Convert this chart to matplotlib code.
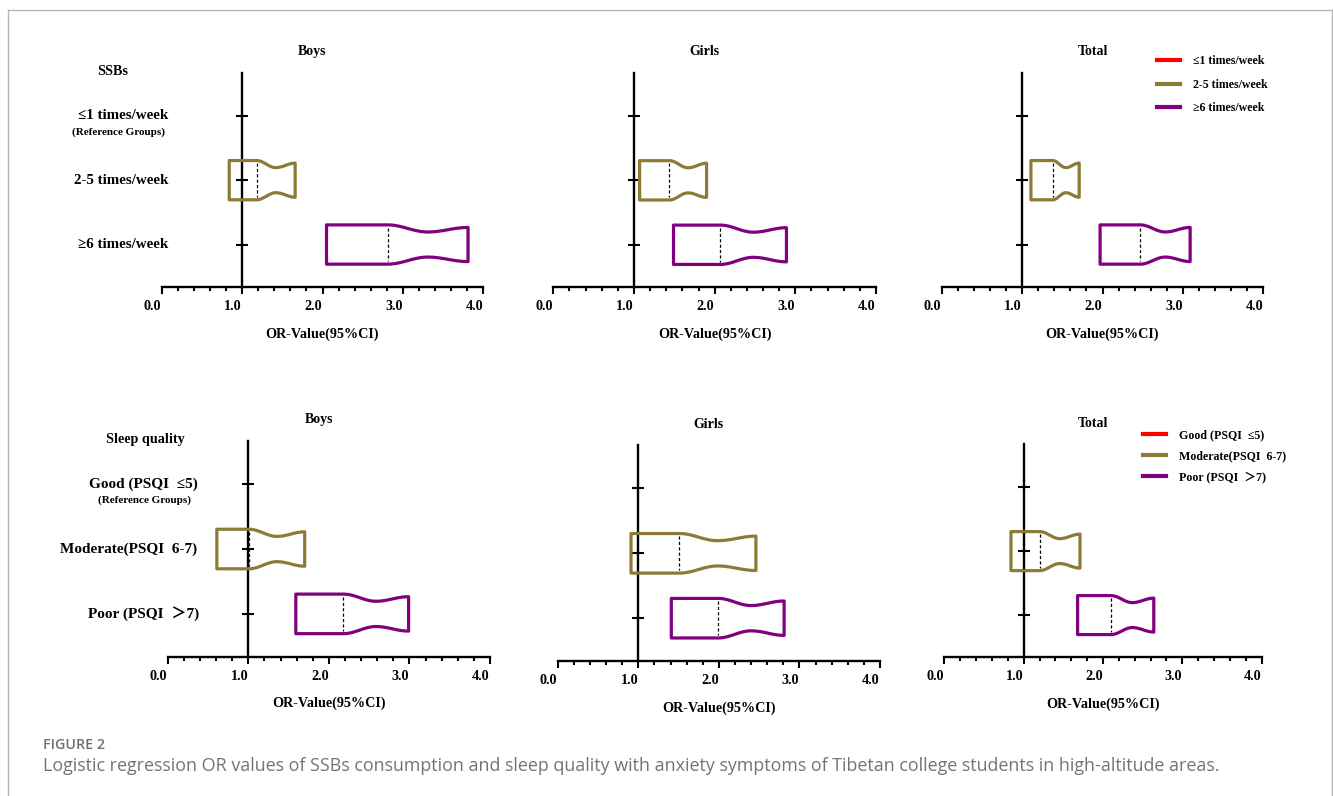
import numpy as np
import matplotlib
matplotlib.use('Agg')
import matplotlib.pyplot as plt
from matplotlib.patches import Polygon
from matplotlib.lines import Line2D
from matplotlib.transforms import ScaledTranslation
from matplotlib.ticker import MultipleLocator, FormatStrFormatter

plt.rcParams['font.family'] = ['Liberation Serif', 'Noto Sans CJK SC', 'DejaVu Sans']
plt.rcParams['font.weight'] = 'bold'

# ---------------- data ----------------
groups = ['Boys', 'Girls', 'Total']
row_pos = [1, 2, 3]

ssb_labels = ['≤1 times/week', '2-5 times/week', '≥6 times/week']
ssb_legend = ['≤1 times/week', '2-5 times/week', '≥6 times/week']
# reference row: OR = 1 (no interval)
ssb_or_boys = [1.00, 1.18, 2.81]
ssb_lo_boys = [1.00, 0.84, 2.05]
ssb_hi_boys = [1.00, 1.66, 3.81]
ssb_or_girls = [1.00, 1.44, 2.07]
ssb_lo_girls = [1.00, 1.07, 1.49]
ssb_hi_girls = [1.00, 1.90, 2.89]
ssb_or_total = [1.00, 1.38, 2.47]
ssb_lo_total = [1.00, 1.11, 1.97]
ssb_hi_total = [1.00, 1.71, 3.09]

sleep_labels = ['Good (PSQI  ≤5)', 'Moderate(PSQI  6-7)', 'Poor (PSQI  ＞7)']
sleep_legend = ['Good (PSQI  ≤5)', 'Moderate(PSQI  6-7)', 'Poor (PSQI  ＞7)']
sleep_or_boys = [1.00, 1.01, 2.18]
sleep_lo_boys = [1.00, 0.61, 1.59]
sleep_hi_boys = [1.00, 1.70, 2.99]
sleep_or_girls = [1.00, 1.51, 1.99]
sleep_lo_girls = [1.00, 0.91, 1.41]
sleep_hi_girls = [1.00, 2.46, 2.81]
sleep_or_total = [1.00, 1.20, 2.10]
sleep_lo_total = [1.00, 0.84, 1.68]
sleep_hi_total = [1.00, 1.71, 2.64]

x_ticks = [0.0, 1.0, 2.0, 3.0, 4.0]

# ---------------- style ----------------
colors = ['#ff0000', '#8c7a37', '#800080']
W, H = 1333, 796
fig = plt.figure(figsize=(W / 100, H / 100), dpi=100)

def px(v):
    return v * 0.72  # pixels -> points at 100 dpi

# axes rectangles in pixels: (left, top, right, bottom)
rects = [
    [(161.7, 72.7, 483.3, 287.0), (553.3, 72.7, 876.0, 287.3), (941.7, 72.7, 1263.3, 287.0)],
    [(167.7, 440.7, 490.0, 656.7), (557.7, 445.0, 880.0, 661.0), (944.3, 444.3, 1261.7, 657.3)],
]
# horizontal centres (pixels) of the row labels
label_cx = [[123, 121, 123], [143, 129, 144]]

def notch_box(ax, lo, med, hi, y, color):
    h, hn, h2 = 0.305, 0.195, 0.265
    notch = (med + hi) / 2.0
    xa = np.linspace(med, notch, 40)
    ta = (xa - med) / (notch - med)
    ha = hn + (h - hn) * (1 + np.cos(np.pi * ta)) / 2
    xb = np.linspace(notch, hi, 40)[1:]
    tb = (xb - notch) / (hi - notch)
    hb = hn + (h2 - hn) * (1 - np.cos(np.pi * tb)) / 2
    xs = np.concatenate([[lo], xa, xb])
    hs = np.concatenate([[h], ha, hb])
    top = np.column_stack([xs, y - hs])
    bot = np.column_stack([xs[::-1], y + hs[::-1]])
    poly = Polygon(np.vstack([top, bot]), closed=True, fill=False,
                   edgecolor=color, lw=2.3, joinstyle='round', zorder=3)
    ax.add_patch(poly)
    ax.plot([med, med], [y - h * 0.86, y + h * 0.86], color='black', lw=0.9,
            ls=(0, (2.5, 1.8)), zorder=4)

panel_data = [
    [(ssb_or_boys, ssb_lo_boys, ssb_hi_boys),
     (ssb_or_girls, ssb_lo_girls, ssb_hi_girls),
     (ssb_or_total, ssb_lo_total, ssb_hi_total)],
    [(sleep_or_boys, sleep_lo_boys, sleep_hi_boys),
     (sleep_or_girls, sleep_lo_girls, sleep_hi_girls),
     (sleep_or_total, sleep_lo_total, sleep_hi_total)],
]

shift = ScaledTranslation(-9 / 100, 0, fig.dpi_scale_trans)

for r in range(2):
    for c in range(3):
        l, t, rr, b = rects[r][c]
        ax = fig.add_axes([l / W, 1 - b / H, (rr - l) / W, (b - t) / H])
        ax.set_xlim(0, 4)
        ax.set_ylim(3.66, 0.33)
        for s in ['top', 'right']:
            ax.spines[s].set_visible(False)
        ax.spines['left'].set_position(('data', 1.0))
        ax.spines['left'].set_linewidth(1.7)
        ax.spines['bottom'].set_linewidth(1.7)
        ax.set_xticks(x_ticks)
        ax.xaxis.set_major_formatter(FormatStrFormatter('%.1f'))
        ax.xaxis.set_minor_locator(MultipleLocator(0.2))
        ax.tick_params(axis='x', which='major', direction='out', length=5, width=1.5,
                       pad=4.5, labelsize=10.2)
        ax.tick_params(axis='x', which='minor', direction='out', length=3, width=1.5)
        ax.set_yticks(row_pos)
        ax.set_yticklabels([])
        ax.tick_params(axis='y', direction='inout', length=9, width=1.5)
        for lab in ax.get_xticklabels():
            lab.set_transform(lab.get_transform() + shift)
            lab.set_fontweight('bold')

        ors, los, his = panel_data[r][c]
        for i in range(len(row_pos)):
            if his[i] > los[i]:
                notch_box(ax, los[i], ors[i], his[i], row_pos[i], colors[i])

        ax.annotate(groups[c], xy=(0.5, 1.0), xycoords='axes fraction',
                    xytext=(px(-10), px(21)), textcoords='offset points',
                    ha='center', va='center', fontsize=10, fontweight='bold')
        ax.annotate('OR-Value(95%CI)', xy=(0.5, 0.0), xycoords='axes fraction',
                    xytext=(0, px(-47)), textcoords='offset points',
                    ha='center', va='center', fontsize=10.2, fontweight='bold')

        if c == 0:
            yt = ax.get_yaxis_transform()
            if r == 0:
                labels = ssb_labels
                ax.annotate('SSBs', xy=(0, 1), xycoords='axes fraction',
                            xytext=(px(113 - l), px(1)), textcoords='offset points',
                            ha='center', va='center', fontsize=10.2, fontweight='bold')
                fs = 10.8
                ref_cx = 118
            else:
                labels = sleep_labels
                ax.annotate('Sleep quality', xy=(0, 1), xycoords='axes fraction',
                            xytext=(px(145 - l), px(1.4)), textcoords='offset points',
                            ha='center', va='center', fontsize=10.2, fontweight='bold')
                fs = 11
                ref_cx = 145
            for i, lab in enumerate(labels):
                ax.annotate(lab, xy=(0, row_pos[i]), xycoords=yt,
                            xytext=(px(label_cx[r][i] - l), 0), textcoords='offset points',
                            ha='center', va='center', fontsize=fs, fontweight='bold')
            ax.annotate('(Reference Groups)', xy=(0, row_pos[0]), xycoords=yt,
                        xytext=(px(ref_cx - l), px(-16)),
                        textcoords='offset points',
                        ha='center', va='center', fontsize=8, fontweight='bold')

# legends
for r, (names, x0, y0, spacing) in enumerate([
        (ssb_legend, 1156.7, 55.5, 0.95),
        (sleep_legend, 1143.0, 429.5, 0.75)]):
    handles = [Line2D([0], [0], color=colors[i], lw=3.0) for i in range(3)]
    fig.legend(handles, names, loc='upper left',
               bbox_to_anchor=(x0 / W, 1 - y0 / H), bbox_transform=fig.transFigure,
               frameon=False, borderpad=0, borderaxespad=0,
               handlelength=1.95, handletextpad=1.1, labelspacing=spacing,
               prop={'family': ['Liberation Serif', 'Noto Sans CJK SC'],
                     'weight': 'bold', 'size': 8.6})

# frame of the figure panel
fc = '#b5b5b5'
fig.add_artist(Line2D([8 / W, 1331.5 / W], [1 - 10 / H, 1 - 10 / H], color=fc, lw=1.0,
                      transform=fig.transFigure))
fig.add_artist(Line2D([8 / W, 8 / W], [0, 1 - 10 / H], color=fc, lw=1.0,
                      transform=fig.transFigure))
fig.add_artist(Line2D([1331.5 / W, 1331.5 / W], [0, 1 - 10 / H], color=fc, lw=1.0,
                      transform=fig.transFigure))

# caption
fig.text(43 / W, 1 - 745 / H, 'FIGURE 2', family='Open Sans', fontweight='semibold',
         fontsize=10.3, color='#707070', ha='left', va='center')
fig.text(43 / W, 1 - 766 / H,
         'Logistic regression OR values of SSBs consumption and sleep quality with anxiety '
         'symptoms of Tibetan college students in high-altitude areas.',
         family='Open Sans', fontweight='normal', fontsize=12.9, color='#747474',
         ha='left', va='center')

fig.savefig('out.png', dpi=100)
